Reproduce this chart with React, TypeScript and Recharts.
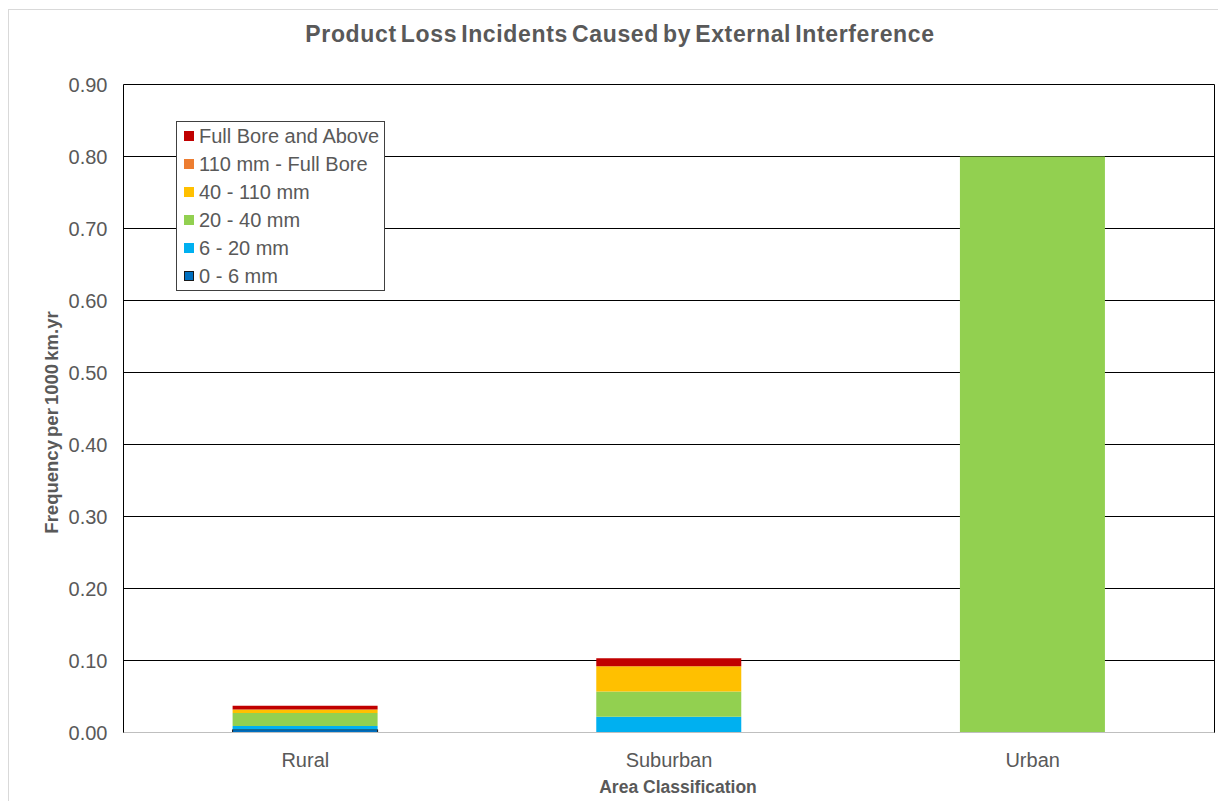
import React from 'react'
import {
  BarChart,
  Bar,
  XAxis,
  YAxis,
  CartesianGrid,
  Legend,
  Label,
} from 'recharts'

// Frequency per 1000 km.yr, stacked by hole size (bottom to top)
const AREAS = ['Rural', 'Suburban', 'Urban']
const SIZE_0_6 = [0.004, 0, 0]
const SIZE_6_20 = [0.005, 0.022, 0]
const SIZE_20_40 = [0.018, 0.035, 0.8]
const SIZE_40_110 = [0.005, 0.035, 0]
const SIZE_110_FB = [0, 0, 0]
const SIZE_FB_ABOVE = [0.005, 0.011, 0]
const Y_TICKS = [0, 0.1, 0.2, 0.3, 0.4, 0.5, 0.6, 0.7, 0.8, 0.9]

const SERIES = [
  { key: 'fb', name: 'Full Bore and Above', color: '#C00000', values: SIZE_FB_ABOVE },
  { key: 'mid', name: '110 mm - Full Bore', color: '#ED7D31', values: SIZE_110_FB },
  { key: 's40', name: '40 - 110 mm', color: '#FFC000', values: SIZE_40_110 },
  { key: 's20', name: '20 - 40 mm', color: '#92D050', values: SIZE_20_40 },
  { key: 's6', name: '6 - 20 mm', color: '#00B0F0', values: SIZE_6_20 },
  { key: 's0', name: '0 - 6 mm', color: '#0070C0', values: SIZE_0_6, stroke: '#1a1a1a' },
]

const data = AREAS.map((area, i) => {
  const row: Record<string, string | number> = { area }
  SERIES.forEach((s) => {
    row[s.key] = s.values[i]
  })
  return row
})

const FONT = '"Liberation Sans", Arial, sans-serif'
const TEXT = '#595959'

const LegendBox = () => (
  <div
    style={{
      border: '1px solid #404040',
      background: '#fff',
      padding: '0 0 0 7px',
      width: 209,
      boxSizing: 'border-box',
    }}
  >
    {SERIES.map((s) => (
      <div key={s.key} style={{ display: 'flex', alignItems: 'center', height: 28 }}>
        <span
          style={{
            width: 10,
            height: 10,
            background: s.color,
            border: s.stroke ? `1px solid ${s.stroke}` : 'none',
            boxSizing: 'border-box',
            marginRight: 5,
          }}
        />
        <span style={{ fontFamily: FONT, fontSize: 20, color: TEXT }}>{s.name}</span>
      </div>
    ))}
  </div>
)

const YTitle = (props: any) => {
  const { viewBox } = props
  const x = viewBox.x + 58
  const y = viewBox.y + viewBox.height / 2 + 14
  return (
    <text
      x={x}
      y={y}
      transform={`rotate(-90 ${x} ${y})`}
      textAnchor="middle"
      fontFamily={FONT}
      fontSize={18.5}
      fontWeight="bold"
      fill={TEXT}
      wordSpacing={-2}
    >
      Frequency per 1000 km.yr
    </text>
  )
}

export default function App() {
  const stacked = [...SERIES].reverse()
  return (
    <div style={{ position: 'absolute', left: 0, top: 0, width: 1218, height: 801, background: '#fff', overflow: 'hidden' }}>
      <div
        style={{
          position: 'absolute',
          left: 8,
          top: 9,
          width: 1230,
          height: 810,
          border: '1px solid #d9d9d9',
        }}
      />
      <div
        style={{
          position: 'absolute',
          left: 0,
          width: 1240,
          top: 21,
          textAlign: 'center',
          fontFamily: FONT,
          fontWeight: 'bold',
          fontSize: 23,
          color: TEXT,
          wordSpacing: -3,
          letterSpacing: 0.65,
        }}
      >
        Product Loss Incidents Caused by External Interference
      </div>
      <BarChart
        width={1218}
        height={801}
        data={data}
        margin={{ top: 84.5, right: 0, bottom: 0, left: 0 }}
        barCategoryGap="30%"
        style={{ position: 'absolute', left: 0, top: 0 }}
      >
        <CartesianGrid vertical={false} stroke="#000" strokeWidth={1} />
        <XAxis
          dataKey="area"
          height={68.5}
          axisLine={{ stroke: '#bfbfbf' }}
          tickLine={false}
          tickMargin={14}
          tick={{ fontFamily: FONT, fontSize: 20, fill: TEXT }}
        >
          <Label
            value="Area Classification"
            position="insideBottom"
            offset={8}
            dx={9}
            style={{ fontFamily: FONT, fontSize: 17.5, fontWeight: 'bold', fill: TEXT }}
          />
        </XAxis>
        <YAxis
          width={123.5}
          domain={[0, 0.9]}
          ticks={Y_TICKS}
          interval={0}
          axisLine={{ stroke: '#000' }}
          tickLine={false}
          tickMargin={10}
          tickFormatter={(v: number) => v.toFixed(2)}
          tick={{ fontFamily: FONT, fontSize: 20, fill: TEXT }}
          label={<YTitle />}
        />
        <YAxis
          yAxisId="frame"
          orientation="right"
          width={3.5}
          domain={[0, 0.9]}
          tick={false}
          tickLine={false}
          axisLine={{ stroke: '#000' }}
        />
        <Legend
          layout="horizontal"
          verticalAlign="middle"
          align="center"
          content={<LegendBox />}
          wrapperStyle={{ position: 'absolute', left: 176, top: 121, width: 209, height: 'auto' }}
        />
        {stacked.map((s) => (
          <Bar
            key={s.key}
            dataKey={s.key}
            name={s.name}
            stackId="a"
            fill={s.color}
            stroke={s.stroke}
            strokeWidth={s.stroke ? 1 : 0}
            isAnimationActive={false}
          />
        ))}
      </BarChart>
    </div>
  )
}
